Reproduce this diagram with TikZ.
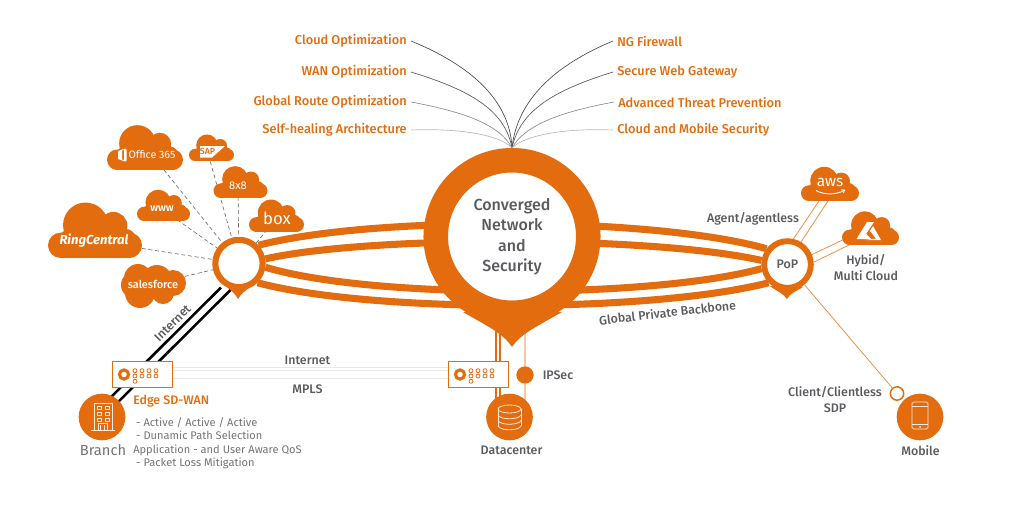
\documentclass[tikz,border=0pt]{standalone}
\usepackage{fontspec}
\setmainfont{Fira Sans}[BoldFont={Fira Sans Medium}]
\newfontfamily\heavyfont{Fira Sans}
\usetikzlibrary{backgrounds,calc}

\definecolor{brand}{HTML}{E36C0E}
\definecolor{brandpale}{HTML}{F6C9A4}
\definecolor{slate}{HTML}{595B5E}

\tikzset{
    brandfill/.style={fill=brand},
    topitem/.style={text=brand, font=\bfseries\fontsize{9.6}{11}\selectfont, inner sep=3pt},
    graylabel/.style={text=slate, font=\bfseries\fontsize{9.3}{11}\selectfont, inner sep=0pt, align=center},
    cloudtext/.style={text=white, inner sep=0pt},
    ringnode/.style={circle, draw=brand, fill=white, inner sep=0pt},
    badge/.style={circle, fill=brand, minimum size=35pt, inner sep=0pt},
    devicebox/.style={draw=brand, fill=white, line width=1.1pt, minimum width=45pt, minimum height=19.5pt, inner sep=0pt},
    iconline/.style={draw=white!85!brand, line width=.6pt},
    band/.style={draw=brand, line width=5.3pt},
    wire/.style={line width=.5pt},
    dashlink/.style={draw=black!60, line width=.45pt, densely dashed},
    thinlink/.style={draw=brand!75!white, line width=.6pt},
    blacklink/.style={draw=black, line width=1.9pt},
    palelink/.style={draw=black!9, line width=.7pt},
    cloudblob/.pic={
        \fill[brandfill] (-.73,-.27) circle (.27) (.73,-.27) circle (.27)
            (-.55,-.35) circle (.25) (-.2,-.7) circle (.48) (.39,-.68) circle (.3)
            (.65,-.4) circle (.22);
        \fill[brandfill] (-.73,0) rectangle (.73,-.5);
    },
    deviceface/.pic={
        \draw[brand, line width=2.3pt] (-18.5,0) circle (4.6);
        \foreach \dotx in {0,7,14,21}
            \foreach \doty in {-3.8,1.5}
                \draw[brand, line width=.6pt, fill=white] (\dotx-7.5,\doty) circle (2);
        \draw[brand, line width=.6pt, fill=white] (-7.5,6.8) circle (2);
    }
}

\newcommand{\cloudat}[4]{
    \pic[scale=#4] at (#2,#3) {cloudblob};
    \coordinate (#1) at (#2,#3);
}

\begin{document}
\begin{tikzpicture}[x=.75pt, y=-.75pt]
    \useasboundingbox (0,0) rectangle (1024,512);

    % feature labels
    \node[topitem, anchor=east] (cloudopt) at (411,41) {Cloud Optimization};
    \node[topitem, anchor=east] (wanopt) at (411,72) {WAN Optimization};
    \node[topitem, anchor=east] (routeopt) at (411,102) {Global Route Optimization};
    \node[topitem, anchor=east] (selfheal) at (411,130) {Self-healing Architecture};
    \node[topitem, anchor=west] (firewall) at (613,41) {NG Firewall};
    \node[topitem, anchor=west] (webgate) at (613,72) {Secure Web Gateway};
    \node[topitem, anchor=west] (threat) at (614,102) {Advanced Threat Prevention};
    \node[topitem, anchor=west] (mobsec) at (613,130) {Cloud and Mobile Security};

    % pin tips
    \fill[brandfill] (463,312) .. controls (485,325) and (503,333) .. (512,347)
        .. controls (521,333) and (540,325) .. (562,312) -- cycle;
    \fill[brandfill] (226,286) .. controls (231,291) and (235,293) .. (238,299)
        .. controls (241,293) and (246,291) .. (251,286) -- cycle;
    \fill[brandfill] (770,286) .. controls (776,291) and (783,293) .. (787,299)
        .. controls (790,293) and (797,291) .. (803,287) -- cycle;

    % hubs
    \node[ringnode, line width=18.4pt, minimum size=114.4pt, text=slate, align=center,
        font=\bfseries\fontsize{12}{15.4}\selectfont] (hub) at (512,236.5)
        {Converged\\Network\\and\\Security};
    \node[ringnode, line width=4.6pt, minimum size=35.5pt] (lring) at (239,263.5) {};
    \node[ringnode, line width=4.4pt, minimum size=35pt, text=slate,
        font=\bfseries\fontsize{9.3}{11}\selectfont] (pop) at (787.5,264.5) {PoP};

    % clouds
    \cloudat{officeb}{145}{170}{38}
    \cloudat{sapb}{211.5}{161}{22.5}
    \cloudat{eightb}{240.5}{198}{27}
    \cloudat{boxb}{276.5}{232}{27.5}
    \cloudat{wwwb}{163.5}{221}{26.5}
    \cloudat{ringb}{95}{258}{47}
    \cloudat{awsb}{830}{201}{29}
    \cloudat{azureb}{870.5}{245}{28.5}
    \fill[brandfill] (138,278) circle (14) (157,280) circle (15) (173,283) circle (13)
        (140,293) circle (15) (163,293) circle (11) (135,285) circle (14);

    \node[cloudtext, font=\fontsize{8}{9}\selectfont] (office) at (152,155) {Office 365};
    \fill[white] (118,151) -- (125,148.5) -- (126.5,149.5) -- (126.5,160.5) -- (125,161.5) -- (118,159)
        -- (118,151.5) -- (122,150.5) -- (122,159.5) -- (124,160) -- (124,150) -- cycle;
    \fill[white] (200,146) -- (225,146) -- (212,157.5) -- (200,157.5) -- cycle;
    \node[inner sep=0pt, text=brand, font=\bfseries\fontsize{6.6}{8}\selectfont] (sap) at (207.5,151.7) {SAP};
    \node[cloudtext, font=\fontsize{8.4}{10}\selectfont] (eight) at (238,186) {8x8};
    \node[cloudtext, font=\fontsize{12.5}{14}\selectfont] (box) at (277,218) {box};
    \node[cloudtext, font=\bfseries\fontsize{8}{9}\selectfont] (www) at (162,209) {www};
    \node[cloudtext, font=\heavyfont\bfseries\itshape\fontsize{9.8}{11}\selectfont] (ringc) at (94,241) {RingCentral};
    \node[cloudtext, font=\bfseries\fontsize{8.2}{10}\selectfont] (sforce) at (153,284) {salesforce};
    \node[cloudtext, font=\fontsize{11.5}{13}\selectfont] (aws) at (830,182.5) {aws};
    \draw[white, line width=.7pt] (816,190.5) .. controls (824,195) and (836,195) .. (844,190.5);
    \draw[white, line width=.6pt] (841,189.8) -- (844.5,190) -- (843.5,193);
    \fill[white] (867,222) -- (874,222) -- (866,234) -- (871,239) -- (856.5,239) -- cycle;
    \fill[white] (873,226) -- (881,240) -- (865,240) -- (876,238.5) -- (870,231) -- cycle;

    % devices
    \node[devicebox] (edge) at (142.5,374.5) {};
    \node[devicebox] (dcedge) at (478.5,374.5) {};
    \pic at (edge) {deviceface};
    \pic at (dcedge) {deviceface};

    % end points
    \node[badge] (branch) at (102,417) {};
    \node[badge] (datac) at (509.5,417) {};
    \node[badge] (mobile) at (920,417) {};
    \node[circle, fill=brand, minimum size=13pt, inner sep=0pt] (ipsec) at (525,375) {};
    \node[circle, draw=brand, fill=white, line width=1.1pt, minimum size=10pt, inner sep=0pt] (sdp) at (897,393.5) {};

    % icons
    \draw[iconline] (94,430) -- (94,403) -- (112,403) -- (112,430) (91,430.5) -- (115,430.5);
    \foreach \winy in {408,414,420}
        \draw[iconline] (97,\winy-1.5) rectangle (101,\winy+1.5) (105,\winy-1.5) rectangle (109,\winy+1.5);
    \draw[iconline] (98,430) -- (98,423) -- (107,423) -- (107,430) (100.5,430) -- (100.5,425) (104.5,430) -- (104.5,425);
    \draw[iconline] (498,409) -- (498,426) (521,409) -- (521,426);
    \draw[iconline] (509.5,409) ellipse (11.5 and 4);
    \draw[iconline] (498,415) .. controls (500,420) and (519,420) .. (521,415);
    \draw[iconline] (498,420.5) .. controls (500,425.5) and (519,425.5) .. (521,420.5);
    \draw[iconline] (498,426) .. controls (500,431) and (519,431) .. (521,426);
    \draw[iconline, rounded corners=1.2pt] (912,402) rectangle (928,429);
    \draw[iconline] (912,406) -- (928,406) (912,424.5) -- (928,424.5);
    \fill[white!85!brand] (920,427) circle (1);

    % text labels
    \node[graylabel] (lblnet) at (307.5,360) {Internet};
    \node[graylabel] (lblmpls) at (307.5,389) {MPLS};
    \node[graylabel, rotate=45] (lblnetb) at (172.5,323) {Internet};
    \node[graylabel] (lblipsec) at (558,375.5) {IPSec};
    \node[graylabel] (lbldc) at (511.5,450) {Datacenter};
    \node[graylabel] (lblmob) at (920.5,451) {Mobile};
    \node[graylabel] (lblagent) at (753,219) {Agent/agentless};
    \node[graylabel, rotate=6.5] (lblback) at (667.5,312.5) {Global Private Backbone};
    \node[graylabel, font=\bfseries\fontsize{9.3}{12}\selectfont] (lblhyb) at (866,268) {Hybid/\\Multi Cloud};
    \node[graylabel, font=\bfseries\fontsize{9.3}{12}\selectfont] (lblsdp) at (835,400) {Client/Clientless\\SDP};
    \node[graylabel, font=\fontsize{11}{13}\selectfont, text=slate!85!white] (lblbranch) at (103,450) {Branch};
    \node[inner sep=0pt, anchor=west, text=brand, font=\bfseries\fontsize{9.3}{11}\selectfont] (lbledge) at (133,401) {Edge SD-WAN};
    \node[inner sep=0pt, anchor=north west, align=left, text=slate!85!white, font=\fontsize{8.3}{10.1}\selectfont] (lbllist) at (133,417)
        {\ - Active / Active / Active\\\ - Dunamic Path Selection\\Application - and User Aware QoS\\\ - Packet Loss Mitigation};

    \begin{scope}[on background layer]
        % backbone
        \draw[band] (lring.43) .. controls (370,216) and (650,216) .. (pop.143);
        \draw[band] (lring.10) .. controls (370,235.5) and (650,235.5) .. (pop.171);
        \draw[band] (lring.-8) .. controls (370,299) and (650,299) .. (pop.189);
        \draw[band] (lring.-46) .. controls (370,313) and (650,313) .. (pop.-136);

        % feature wires
        \draw[wire, draw=black!70] (cloudopt.east) .. controls (470,65) and (510,100) .. (hub.north);
        \draw[wire, draw=black!65] (wanopt.east) .. controls (470,90) and (505,110) .. (hub.north);
        \draw[wire, draw=black!45] (routeopt.east) .. controls (465,112) and (500,125) .. (hub.north);
        \draw[wire, draw=black!28] (selfheal.east) .. controls (460,128) and (500,135) .. (hub.north);
        \draw[wire, draw=black!70] (firewall.west) .. controls (555,65) and (517,100) .. (hub.north);
        \draw[wire, draw=black!65] (webgate.west) .. controls (555,90) and (520,110) .. (hub.north);
        \draw[wire, draw=black!45] (threat.west) .. controls (560,112) and (525,125) .. (hub.north);
        \draw[wire, draw=black!28] (mobsec.west) .. controls (565,128) and (525,135) .. (hub.north);

        % cloud links
        \draw[dashlink] (office) -- (lring);
        \draw[dashlink] (sap) -- (lring);
        \draw[dashlink] (eight) -- (lring);
        \draw[dashlink] (box) -- (lring);
        \draw[dashlink] (www) -- (lring);
        \draw[dashlink] (ringc) -- (lring);
        \draw[dashlink] (sforce) -- (lring);

        % site links
        \draw[blacklink] ($(lring)+(-18,24)$) -- ($(branch)+(0,-11)$);
        \draw[blacklink] ($(lring)+(-8,26)$) -- ($(branch)+(1,0)$);
        \draw[palelink] ($(edge.east)+(0,-7.5)$) -- ($(dcedge.west)+(0,-7.5)$);
        \draw[palelink] ($(edge.east)+(0,-4.5)$) -- ($(dcedge.west)+(0,-4.5)$);
        \draw[palelink] ($(edge.east)+(0,3.5)$) -- ($(dcedge.west)+(0,3.5)$);
        \draw[brand, line width=1.4pt] ($(hub)+(-16,0)$) -- ($(datac)+(-13.5,0)$);
        \draw[brand, line width=1.4pt] ($(hub)+(-12,0)$) -- ($(datac)+(-9.5,0)$);
        \draw[draw=brandpale, line width=1pt] ($(hub)+(13,0)$) -- (ipsec) -- ($(datac)+(15.5,0)$);

        % cloud and mobile access
        \draw[thinlink] ($(awsb)+(-11,0)$) -- (pop.77);
        \draw[thinlink] ($(awsb)+(-2,0)$) -- (pop.59);
        \draw[thinlink] ($(azureb)+(-28,-5)$) -- (pop.22);
        \draw[thinlink] ($(azureb)+(-21.5,0)$) -- (pop.5);
        \draw[thinlink] (pop.-50) -- (sdp);
    \end{scope}
\end{tikzpicture}
\end{document}
